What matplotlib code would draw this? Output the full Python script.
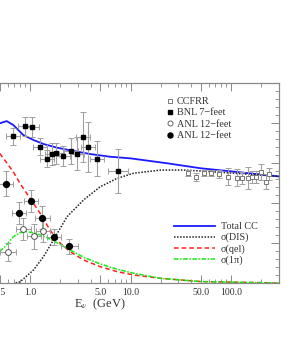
import numpy as np
import matplotlib
matplotlib.use("Agg")
import matplotlib.pyplot as plt
from matplotlib.lines import Line2D
from matplotlib.ticker import FixedLocator, FixedFormatter, MultipleLocator, NullFormatter

plt.rcParams['font.family'] = ['Liberation Serif', 'DejaVu Serif']
plt.rcParams['mathtext.fontset'] = 'stix'

# theory curves (E in GeV, sigma/E in arbitrary units)
E_tot = [0.5, 0.585, 0.68, 0.857, 1.08, 1.36, 1.85, 2.71, 3.98, 6.31, 10.0, 23.3, 50.0, 107.0, 300.0]
s_tot = [0.998, 1.012, 0.988, 0.925, 0.894, 0.869, 0.846, 0.825, 0.806, 0.789, 0.779, 0.748, 0.717, 0.696, 0.666]

E_dis = [0.72, 0.80, 0.927, 1.08, 1.36, 1.71, 2.33, 3.41, 5.0, 7.36, 10.7, 20.0, 34.0, 50.0, 107.0, 300.0]
s_dis = [0.0, 0.008, 0.044, 0.081, 0.164, 0.269, 0.414, 0.519, 0.602, 0.654, 0.686, 0.706, 0.706, 0.700, 0.686, 0.666]

E_qel = [0.5, 0.68, 0.794, 1.0, 1.26, 1.58, 2.0, 2.51, 3.41, 5.0, 7.36, 10.8, 20.0, 50.0, 300.0]
s_qel = [0.81, 0.696, 0.623, 0.529, 0.436, 0.331, 0.248, 0.196, 0.144, 0.102, 0.071, 0.050, 0.029, 0.009, 0.0]

E_1pi = [0.5, 0.585, 0.68, 0.794, 0.927, 1.08, 1.36, 1.71, 2.33, 3.41, 5.0, 7.36, 10.8, 20.0, 50.0, 300.0]
s_1pi = [0.196, 0.238, 0.289, 0.314, 0.321, 0.314, 0.294, 0.264, 0.217, 0.161, 0.119, 0.086, 0.061, 0.029, 0.009, 0.0]

# data points
E_ccfrr = [37.4, 45.2, 54.3, 63.8, 75.9, 93.3, 113.5, 128.8, 146.2, 162.2, 177.8, 197.2, 221.3, 237.1]
s_ccfrr = [0.686, 0.664, 0.689, 0.689, 0.681, 0.664, 0.658, 0.654, 0.658, 0.661, 0.664, 0.692, 0.633, 0.681]
e_ccfrr = [0.019, 0.025, 0.019, 0.019, 0.025, 0.054, 0.052, 0.038, 0.068, 0.038, 0.038, 0.050, 0.047, 0.038]

E_bnl = [0.68, 0.89, 1.05, 1.27, 1.46, 1.67, 1.83, 2.15, 2.53, 2.93, 3.36, 3.78, 4.68, 7.53]
s_bnl = [0.917, 0.979, 0.975, 0.852, 0.777, 0.806, 0.810, 0.796, 0.825, 0.808, 0.915, 0.852, 0.777, 0.700]
e_bnl = [0.054, 0.060, 0.062, 0.052, 0.052, 0.066, 0.066, 0.062, 0.081, 0.104, 0.156, 0.156, 0.110, 0.135]
w_bnl = [0.07, 0.07, 0.07, 0.07, 0.07, 0.07, 0.07, 0.07, 0.07, 0.07, 0.07, 0.07, 0.07, 0.10]

E_anl_o = [0.607, 0.857, 1.10, 1.35]
s_anl_o = [0.192, 0.336, 0.292, 0.325]
e_anl_o = [0.056, 0.069, 0.078, 0.069]
w_anl_o = [0.08, 0.075, 0.07, 0.07]

E_anl_f = [0.575, 0.776, 1.03, 1.33, 1.72, 2.47]
s_anl_f = [0.619, 0.438, 0.513, 0.408, 0.288, 0.231]
e_anl_f = [0.078, 0.069, 0.069, 0.073, 0.050, 0.047]
w_anl_f = [0.07, 0.07, 0.07, 0.07, 0.07, 0.08]

xtick_vals = [0.5, 1.0, 5.0, 10.0, 50.0, 100.0]
xtick_labels = ['0.5', '1.0', '5.0', '10.0', '50.0', '100.0']


def xerr_from(E, w):
    E = np.asarray(E)
    f = 10 ** np.asarray(w)
    return [E - E / f, E * f - E]


fig = plt.figure(figsize=(3.07, 3.47), dpi=100)
ax = fig.add_axes([-0.2296, 0.1844, 1.1384, 0.5764])
ax.set_xscale('log')
ax.set_xlim(0.1, 300)
ax.set_ylim(0, 1.25)

ax.plot(E_tot, s_tot, color='#1a1aff', lw=1.3)
ax.plot(E_dis, s_dis, color='#222222', lw=1.1, ls=(0, (1, 1)))
ax.plot(E_qel, s_qel, color='#ff2020', lw=1.1, ls=(0, (3, 2)))
ax.plot(E_1pi, s_1pi, color='#11ee11', lw=1.1, ls=(0, (3, 1, 1, 1)))

eb = dict(ecolor='#a0a0a0', elinewidth=0.8, capsize=2.2, capthick=0.7, ls='none')
ax.errorbar(E_ccfrr, s_ccfrr, yerr=e_ccfrr, fmt='s', ms=3.2, mfc='white', mec='#777777', mew=0.7, **eb)
ax.errorbar(E_bnl, s_bnl, yerr=e_bnl, xerr=xerr_from(E_bnl, w_bnl), fmt='s', ms=3.5, mfc='black', mec='black', **eb)
ax.errorbar(E_anl_o, s_anl_o, yerr=e_anl_o, xerr=xerr_from(E_anl_o, w_anl_o), fmt='o', ms=4.2, mfc='white', mec='#555555', mew=0.7, **eb)
ax.errorbar(E_anl_f, s_anl_f, yerr=e_anl_f, xerr=xerr_from(E_anl_f, w_anl_f), fmt='o', ms=4.2, mfc='black', mec='black', **eb)

# ticks
ax.xaxis.set_major_locator(FixedLocator(xtick_vals))
ax.xaxis.set_major_formatter(FixedFormatter(xtick_labels))
minors = [m * 10.0 ** k for k in range(-1, 3) for m in range(1, 10) if m * 10.0 ** k not in xtick_vals]
ax.xaxis.set_minor_locator(FixedLocator(minors))
ax.xaxis.set_minor_formatter(NullFormatter())
ax.yaxis.set_major_locator(MultipleLocator(0.25))
ax.yaxis.set_minor_locator(MultipleLocator(0.05))
ax.tick_params(which='both', direction='in', top=True, right=True, colors='#888888',
               labelcolor='#333333', labelleft=False, labelsize=7)
ax.tick_params(which='major', length=6, width=0.7)
ax.tick_params(which='minor', length=3, width=0.6)
for sp in ax.spines.values():
    sp.set_color('#888888')
    sp.set_linewidth(0.9)

ax.set_xlabel('E$_\\nu$  (GeV)', fontsize=9, color='#333333')
ax.xaxis.set_label_coords(0.488, -0.066)

# legends
h1 = [Line2D([], [], ls='none', marker='s', ms=3.2, mfc='white', mec='#777777', mew=0.7),
      Line2D([], [], ls='none', marker='s', ms=3.3, mfc='black', mec='black'),
      Line2D([], [], ls='none', marker='o', ms=3.6, mfc='white', mec='#666666', mew=0.7),
      Line2D([], [], ls='none', marker='o', ms=3.6, mfc='black', mec='black')]
leg1 = ax.legend(h1, ['CCFRR', 'BNL 7\u2212feet', 'ANL 12\u2212feet', 'ANL 12\u2212feet'],
                 loc='upper left', bbox_to_anchor=(0.663, 0.955), frameon=False, fontsize=7.3,
                 handlelength=0.7, handletextpad=0.35, labelspacing=0.22, borderpad=0,
                 labelcolor='#333333')
ax.add_artist(leg1)

h2 = [Line2D([], [], color='#1a1aff', lw=1.3),
      Line2D([], [], color='#222222', lw=1.1, ls=(0, (1, 1))),
      Line2D([], [], color='#ff2020', lw=1.1, ls=(0, (3, 2))),
      Line2D([], [], color='#11ee11', lw=1.1, ls=(0, (3, 1, 1, 1)))]
ax.legend(h2, ['Total CC', '\u03c3(DIS)', '\u03c3(qel)', '\u03c3(1\u03c0)'],
          loc='upper left', bbox_to_anchor=(0.685, 0.33), frameon=False, fontsize=7.3,
          handlelength=4.0, handletextpad=0.6, labelspacing=0.16, borderpad=0,
          labelcolor='#333333')

fig.savefig('out.png', dpi=100)
